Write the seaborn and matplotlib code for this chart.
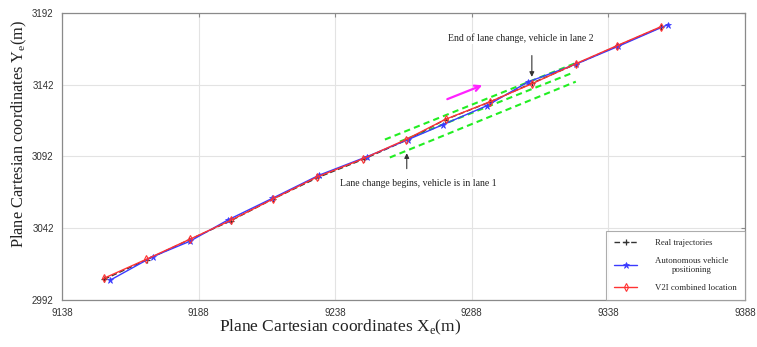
import matplotlib
matplotlib.use("Agg")
import matplotlib.pyplot as plt
import seaborn as sns

# trajectory points (metres)
real_x = [9153.4, 9169.1, 9184.5, 9199.8, 9215.2, 9231.7, 9248.5,
          9264.2, 9278.1, 9294.6, 9310.0, 9326.1, 9341.1, 9357.2]
real_y = [3006.5, 3020.2, 3034.0, 3047.3, 3062.4, 3077.4, 3090.2,
          3103.5, 3117.5, 3129.9, 3143.0, 3156.3, 3168.8, 3182.0]

auto_x = [9155.6, 9171.2, 9184.8, 9198.7, 9215.0, 9232.1, 9249.5,
          9264.7, 9277.5, 9293.6, 9308.6, 9326.3, 9341.5, 9359.7]
auto_y = [3005.9, 3022.3, 3033.0, 3047.8, 3062.9, 3079.0, 3091.8,
          3103.8, 3114.2, 3127.4, 3143.9, 3156.4, 3168.6, 3183.7]

v2i_x = [9153.2, 9168.9, 9184.8, 9199.8, 9215.4, 9231.3, 9248.2,
         9263.9, 9278.4, 9294.8, 9310.1, 9326.1, 9341.1, 9357.2]
v2i_y = [3007.1, 3020.5, 3034.4, 3047.6, 3062.6, 3077.7, 3090.4,
         3103.8, 3117.9, 3130.2, 3142.7, 3156.6, 3169.1, 3182.3]

# dashed lane boundaries
lane_top_x = [9256.2, 9326.4]
lane_top_y = [3103.8, 3157.3]
lane_mid_x = [9261.7, 9325.0]
lane_mid_y = [3102.4, 3150.3]
lane_bot_x = [9258.0, 9326.1]
lane_bot_y = [3091.3, 3144.1]

x_ticks = [9138, 9188, 9238, 9288, 9338, 9388]
y_ticks = [2992, 3042, 3092, 3142, 3192]

sns.set_style("white")
plt.rcParams["font.family"] = ["Liberation Serif", "DejaVu Serif"]

fig, ax = plt.subplots(figsize=(7.57, 3.47), dpi=100)
fig.subplots_adjust(left=0.082, right=0.984, bottom=0.135, top=0.963)

# lane lines
for lx, ly in [(lane_top_x, lane_top_y), (lane_mid_x, lane_mid_y), (lane_bot_x, lane_bot_y)]:
    sns.lineplot(x=lx, y=ly, sort=False, ax=ax, color="#22ee22", lw=1.5,
                 linestyle=(0, (3, 2)), legend=False, zorder=2)

sns.lineplot(x=real_x, y=real_y, sort=False, ax=ax, color="#333333", lw=1.0,
             linestyle=(0, (4, 2)), marker="+", ms=5, mew=0.9, mec="#333333",
             label="Real trajectories", zorder=3)
sns.lineplot(x=auto_x, y=auto_y, sort=False, ax=ax, color="#3a3aff", lw=1.0,
             marker="*", ms=5, mew=0.5, mec="#3a3aff", mfc="#3a3aff",
             label="Autonomous vehicle\npositioning", zorder=4)
sns.lineplot(x=v2i_x, y=v2i_y, sort=False, ax=ax, color="#ff3333", lw=1.0,
             marker="d", ms=4, mfc="none", mec="#ff3333", mew=0.8,
             label="V2I combined location", zorder=5)

# arrows and notes
ax.annotate("", xy=(9292.8, 3142.3), xytext=(9278.1, 3131.2),
            arrowprops=dict(arrowstyle="->", color="#ff22ff", lw=1.6, mutation_scale=10))
ax.annotate("", xy=(9310.0, 3145.5), xytext=(9310.0, 3164.2),
            arrowprops=dict(arrowstyle="-|>", color="#333333", lw=0.8, mutation_scale=7))
ax.annotate("", xy=(9264.2, 3096.2), xytext=(9264.2, 3081.6),
            arrowprops=dict(arrowstyle="-|>", color="#333333", lw=0.8, mutation_scale=7))
ax.text(9306.1, 3174.6, "End of lane change, vehicle in lane 2", fontsize=7,
        ha="center", va="center", color="#222222",
        bbox=dict(facecolor="white", edgecolor="none", pad=1))
ax.text(9268.4, 3073.3, "Lane change begins, vehicle is in lane 1", fontsize=7,
        ha="center", va="center", color="#222222",
        bbox=dict(facecolor="white", edgecolor="none", pad=1))

ax.set_xlim(9138, 9388)
ax.set_ylim(2992, 3192)
ax.set_xticks(x_ticks)
ax.set_yticks(y_ticks)
ax.grid(True, color="#e3e3e3", lw=0.8)
ax.set_axisbelow(True)
for sp in ax.spines.values():
    sp.set_color("#8a8a8a")
    sp.set_linewidth(0.9)
ax.tick_params(direction="in", length=3, width=0.8, color="#8a8a8a",
               top=True, right=True, labelsize=7, labelcolor="#333333", pad=6)
for lab in ax.get_xticklabels() + ax.get_yticklabels():
    lab.set_family("Liberation Sans")

ax.set_xlabel("Plane Cartesian coordinates X$_\\mathregular{e}$(m)", fontsize=12.5,
              color="#222222")
ax.set_ylabel("Plane Cartesian coordinates Y$_\\mathregular{e}$(m)", fontsize=11.8,
              color="#222222")
# labels sit off-centre in the original figure
ax.xaxis.set_label_coords(0.407, -0.062)
ax.yaxis.set_label_coords(-0.049, 0.578)

leg = ax.legend(loc="lower right", bbox_to_anchor=(1, 0), borderaxespad=0,
                fontsize=6.3, frameon=True, fancybox=False, edgecolor="#999999",
                handlelength=2.6, handletextpad=2.1, borderpad=0.9, labelspacing=1.15)
leg.get_frame().set_linewidth(0.8)
for t in leg.get_texts():
    t.set_multialignment("center")

plt.savefig("out.png", dpi=100, facecolor="white")
